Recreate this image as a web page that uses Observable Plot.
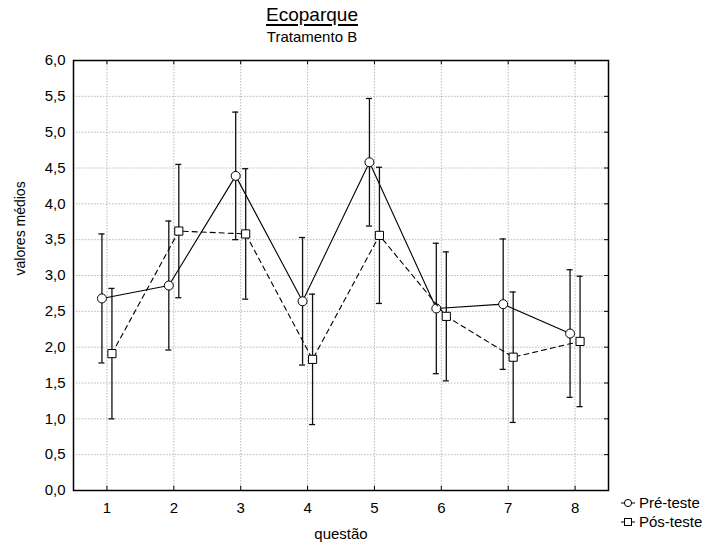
<!DOCTYPE html>
<html>
<head>
<meta charset="utf-8">
<script src="https://cdn.jsdelivr.net/npm/d3@7"></script>
<script src="https://cdn.jsdelivr.net/npm/@observablehq/plot@0.6"></script>
<style>
  html, body { margin: 0; padding: 0; background: #fff; }
  #wrap { position: relative; width: 723px; height: 550px; font-family: "Liberation Sans", Arial, sans-serif; color: #000; }
  #title { position: absolute; left: 212px; width: 200px; top: 4px; text-align: center; font-size: 19px; text-decoration: underline; text-decoration-thickness: 1.5px; text-underline-offset: 3px; }
  #subtitle { position: absolute; left: 212px; width: 200px; top: 28px; text-align: center; font-size: 15px; }
  #legend { position: absolute; left: 621px; top: 493px; font-size: 15px; line-height: 19px; }
  #legend .row { display: flex; align-items: center; white-space: nowrap; }
  #legend svg { margin-right: 4px; }
</style>
</head>
<body>
<div id="wrap">
  <div id="chart"></div>
  <div id="title">Ecoparque</div>
  <div id="subtitle">Tratamento B</div>
  <div id="legend"></div>
</div>
<script>
// Data
const questions = [1, 2, 3, 4, 5, 6, 7, 8];
const preMean  = [2.68, 2.86, 4.39, 2.64, 4.58, 2.54, 2.60, 2.19];
const preErr   = [0.90, 0.90, 0.89, 0.89, 0.89, 0.91, 0.91, 0.89];
const postMean = [1.91, 3.62, 3.58, 1.83, 3.56, 2.43, 1.86, 2.08];
const postErr  = [0.91, 0.93, 0.91, 0.91, 0.95, 0.90, 0.91, 0.91];
const yTicks = [0, 0.5, 1, 1.5, 2, 2.5, 3, 3.5, 4, 4.5, 5, 5.5, 6];
const seriesNames = ["Pré-teste", "Pós-teste"];

const pre = questions.map((q, i) => ({q, m: preMean[i], lo: preMean[i] - preErr[i], hi: preMean[i] + preErr[i]}));
const post = questions.map((q, i) => ({q, m: postMean[i], lo: postMean[i] - postErr[i], hi: postMean[i] + postErr[i]}));

const capHalf = 0.045;
const errStyle = {stroke: "#111", strokeWidth: 1.3};

function seriesMarks(data, dx, dash, symbol) {
  return [
    Plot.line(data, {x: "q", y: "m", dx, stroke: "#000", strokeWidth: 1.1, strokeDasharray: dash}),
    Plot.ruleX(data, {x: "q", y1: "lo", y2: "hi", dx, ...errStyle}),
    Plot.ruleY(data, {y: "hi", x1: d => d.q - capHalf, x2: d => d.q + capHalf, dx, ...errStyle}),
    Plot.ruleY(data, {y: "lo", x1: d => d.q - capHalf, x2: d => d.q + capHalf, dx, ...errStyle}),
    Plot.dot(data, {x: "q", y: "m", dx, symbol, r: symbol === "circle" ? 4.5 : 4.6, fill: "#fff", stroke: "#000", strokeWidth: 1})
  ];
}

const fmt = d => d.toFixed(1).replace(".", ",");

const chart = Plot.plot({
  width: 723,
  height: 550,
  marginLeft: 73,
  marginRight: 115,
  marginTop: 60,
  marginBottom: 60,
  style: {fontFamily: "'Liberation Sans', Arial, sans-serif", fontSize: "15px", background: "#fff", color: "#000"},
  x: {domain: [0.5, 8.5], ticks: questions, tickFormat: d => String(d), tickSize: 0, tickPadding: 12, label: null},
  y: {domain: [0, 6], ticks: yTicks, tickFormat: fmt, tickSize: 0, tickPadding: 8, label: null},
  marks: [
    Plot.ruleX(questions, {x: d => d, stroke: "#b8b8b8", strokeWidth: 1, strokeDasharray: "1.5,1.5"}),
    Plot.ruleY(yTicks.filter(v => v > 0 && v < 6), {y: d => d, stroke: "#b8b8b8", strokeWidth: 1, strokeDasharray: "1.5,1.5"}),
    // inner ticks
    Plot.ruleX(questions, {x: d => d, y1: 0, y2: 0.06, stroke: "#000"}),
    Plot.ruleX(questions, {x: d => d, y1: 6, y2: 5.94, stroke: "#000"}),
    Plot.ruleY(yTicks, {y: d => d, x1: 8.5, x2: 8.44, stroke: "#000"}),
    ...seriesMarks(pre, -5, null, "circle"),
    ...seriesMarks(post, 5, "5,4", "square"),
    Plot.frame({stroke: "#000", strokeWidth: 1.5}),
    Plot.text(["valores médios"], {frameAnchor: "left", dx: -53, rotate: -90, fontSize: 14}),
    Plot.text(["questão"], {frameAnchor: "bottom", dy: 48, fontSize: 15})
  ]
});
document.getElementById("chart").appendChild(chart);

// Legend
const legend = d3.select("#legend");
seriesNames.forEach((name, i) => {
  const row = legend.append("div").attr("class", "row");
  const s = row.append("svg").attr("width", 14).attr("height", 12);
  if (i === 0) {
    s.append("line").attr("x1", 0).attr("x2", 14).attr("y1", 6).attr("y2", 6).attr("stroke", "#000");
    s.append("circle").attr("cx", 7).attr("cy", 6).attr("r", 3.6).attr("fill", "#fff").attr("stroke", "#000");
  } else {
    s.append("line").attr("x1", 0).attr("x2", 3).attr("y1", 6).attr("y2", 6).attr("stroke", "#000");
    s.append("line").attr("x1", 11).attr("x2", 14).attr("y1", 6).attr("y2", 6).attr("stroke", "#000");
    s.append("rect").attr("x", 3.5).attr("y", 2.5).attr("width", 7).attr("height", 7).attr("fill", "#fff").attr("stroke", "#000");
  }
  row.append("span").text(name);
});
</script>
</body>
</html>
